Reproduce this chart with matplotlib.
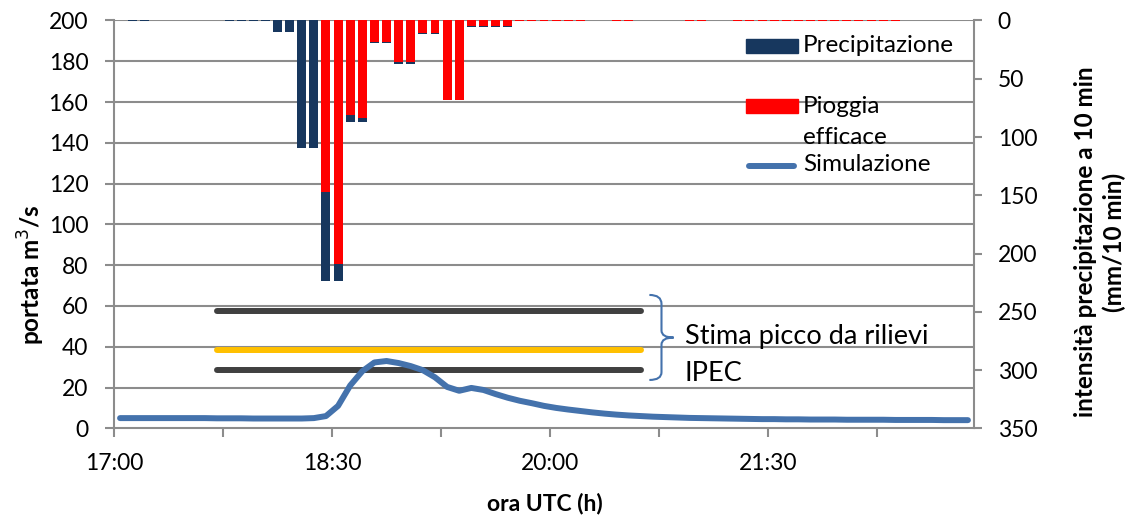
import matplotlib
matplotlib.use('Agg')
import matplotlib.pyplot as plt
from matplotlib.patches import Rectangle, PathPatch
from matplotlib.lines import Line2D
from matplotlib.path import Path
import numpy as np

plt.rcParams['font.family'] = ['Lato', 'DejaVu Sans']

# time axis: minutes after 17:00, 5-min categories centred at 2.5 + 5k
step = 5
n_cat = 71
t = 2.5 + step * np.arange(n_cat)

# simulated discharge (m3/s)
simulazione = [5.0, 5.0, 5.0, 5.0, 5.0, 5.0, 5.0, 5.0, 4.9, 4.9,
               4.9, 4.8, 4.8, 4.8, 4.8, 4.8, 5.0, 6.0, 11.0, 21.0,
               28.0, 32.3, 33.0, 32.0, 30.5, 28.5, 25.0, 20.3, 18.4, 19.8,
               18.8, 16.8, 15.0, 13.5, 12.3, 11.0, 10.0, 9.2, 8.5, 7.8,
               7.2, 6.7, 6.3, 6.0, 5.7, 5.5, 5.3, 5.1, 5.0, 4.9,
               4.8, 4.7, 4.6, 4.5, 4.5, 4.4, 4.4, 4.3, 4.3, 4.3,
               4.2, 4.2, 4.2, 4.2, 4.1, 4.1, 4.1, 4.1, 4.0, 4.0, 4.0]

# rain (mm/10 min) per category index
bar_idx = [1, 2, 9, 10, 11, 12, 13, 14, 15, 16, 17, 18, 19, 20, 21, 22,
           23, 24, 25, 26, 27, 28, 29, 30, 31, 32,
           33, 34, 35, 36, 37, 38, 41, 42, 47, 48,
           51, 52, 53, 54, 55, 56, 57, 58, 59, 60, 61, 62, 63, 64]
precipitazione = [0.6, 0.6, 0.6, 0.6, 0.6, 0.6, 10, 10, 109, 109, 224, 224, 87, 87, 19, 19,
                  37, 37, 11.5, 11.5, 68.5, 68.5, 5.2, 5.2, 5.2, 5.2,
                  0.6, 0.6, 0.6, 0.6, 0.6, 0.6, 0.6, 0.6, 0.6, 0.6,
                  0.6, 0.6, 0.6, 0.6, 0.6, 0.6, 0.6, 0.6, 0.6, 0.6, 0.6, 0.6, 0.6, 0.6]
pioggia_efficace = [0, 0, 0, 0, 0, 0, 0, 0, 0, 0, 147, 209, 81, 84, 18.5, 18.5,
                    36, 36, 11, 11, 68, 68, 5, 5, 5, 5,
                    0.6, 0.6, 0.6, 0.6, 0.6, 0.6, 0.6, 0.6, 0.6, 0.6,
                    0.6, 0.6, 0.6, 0.6, 0.6, 0.6, 0.6, 0.6, 0.6, 0.6, 0.6, 0.6, 0.6, 0.6]

# peak estimates from IPEC surveys (m3/s)
stima_max = 57.5
stima_med = 38.5
stima_min = 28.5
stima_t = [42.5, 217.5]

tick_min = [0, 45, 90, 135, 180, 225, 270, 315]
tick_lab = ['17:00', '', '18:30', '', '20:00', '', '21:30', '']

c_prec = '#17375E'
c_eff = '#FF0000'
c_sim = '#4472AC'
c_grid = '#8C8C8C'

W, H = 1135, 519
fig = plt.figure(figsize=(W / 100, H / 100), dpi=100)
ax = fig.add_axes([114 / W, 1 - 428.3 / H, 860 / W, 407.8 / H])
ax2 = ax.twinx()

bar_t = t[bar_idx]
ax2.bar(bar_t, precipitazione, width=3.7, color=c_prec, zorder=2)
ax2.bar(bar_t, pioggia_efficace, width=3.7, color=c_eff, zorder=3)
ax2.set_ylim(350, 0)
ax2.set_yticks(np.arange(0, 351, 50))

ax.set_zorder(ax2.get_zorder() + 1)
ax.patch.set_visible(False)
ax2.patch.set_visible(True)
ax2.patch.set_facecolor('white')

ax.plot(t, simulazione, color=c_sim, lw=4.3, solid_capstyle='round', solid_joinstyle='round', zorder=4)
ax.plot(stima_t, [stima_max] * 2, color='#404040', lw=4.3, solid_capstyle='round', zorder=3)
ax.plot(stima_t, [stima_med] * 2, color='#FFC000', lw=4.3, solid_capstyle='round', zorder=3)
ax.plot(stima_t, [stima_min] * 2, color='#404040', lw=4.3, solid_capstyle='round', zorder=3)

ax.set_ylim(0, 200)
ax.set_yticks(np.arange(0, 201, 20))
ax.set_xlim(0, step * n_cat)
ax.set_xticks(tick_min)
ax.set_xticklabels(tick_lab)

# gridlines drawn on the back axes so they sit behind the bars
for v in np.arange(20, 201, 20):
    ax2.axhline(350 - v * 350 / 200, color=c_grid, lw=1.5, zorder=1)

for a in (ax, ax2):
    for s in a.spines.values():
        s.set_visible(False)
ax.spines['left'].set_visible(True)
ax.spines['bottom'].set_visible(True)
ax2.spines['right'].set_visible(True)
for s in (ax.spines['left'], ax.spines['bottom'], ax2.spines['right']):
    s.set_color(c_grid)
    s.set_linewidth(1.5)

ax.tick_params(axis='both', colors=c_grid, labelcolor='black', labelsize=16.5, length=6.5, width=1.5)
ax.tick_params(axis='x', pad=11)
ax.tick_params(axis='y', pad=12)
ax2.tick_params(axis='y', colors=c_grid, labelcolor='black', labelsize=16.5, length=6, width=1.5, pad=11)

# axis titles placed by their centres (figure pixels)
fig.text(545 / W, 1 - 504 / H, 'ora UTC (h)', fontsize=16.5, fontweight='bold',
         ha='center', va='center')
fig.text(31 / W, 1 - 275 / H, 'portata m$^3$/s', fontsize=17.5, fontweight='bold',
         ha='center', va='center', rotation=90)
fig.text(1100 / W, 1 - 242 / H, 'intensità precipitazione a 10 min\n(mm/10 min)', fontsize=17.5,
         fontweight='bold', ha='center', va='center', rotation=90, multialignment='center',
         linespacing=1.25)

# curly brace next to the estimates
verts = [(221, 65.4), (226, 65.4), (226, 61), (226, 48), (226, 44.5), (231, 44.5),
         (226, 44.5), (226, 41), (226, 27.5), (226, 23.7), (221, 23.7)]
codes = [Path.MOVETO, Path.CURVE3, Path.CURVE3, Path.LINETO, Path.CURVE3, Path.CURVE3,
         Path.CURVE3, Path.CURVE3, Path.LINETO, Path.CURVE3, Path.CURVE3]
ax.add_patch(PathPatch(Path(verts, codes), fill=False, edgecolor=c_sim, lw=1.5, zorder=5))
ax.text(235.5, 45, 'Stima picco da rilievi', fontsize=19.5, va='center', ha='left', zorder=5)
ax.text(235.5, 27, 'IPEC', fontsize=19.5, va='center', ha='left', zorder=5)

# legend
tr = ax.transAxes
ax.add_patch(Rectangle((0.7345, 0.9196), 0.0605, 0.0343, color=c_prec, transform=tr, zorder=6))
ax.add_patch(Rectangle((0.7345, 0.7725), 0.0605, 0.0343, color=c_eff, transform=tr, zorder=6))
ax.add_line(Line2D([0.738, 0.791], [0.6439, 0.6439], color=c_sim, lw=4.3, solid_capstyle='round',
                   transform=tr, zorder=6))
ax.text(0.801, 0.9375, 'Precipitazione', transform=tr, fontsize=17.5, va='center', zorder=6)
ax.text(0.801, 0.790, 'Pioggia', transform=tr, fontsize=17.5, va='center', zorder=6)
ax.text(0.801, 0.714, 'efficace', transform=tr, fontsize=17.5, va='center', zorder=6)
ax.text(0.801, 0.6457, 'Simulazione', transform=tr, fontsize=17.5, va='center', zorder=6)

fig.savefig('out.png', dpi=100)
